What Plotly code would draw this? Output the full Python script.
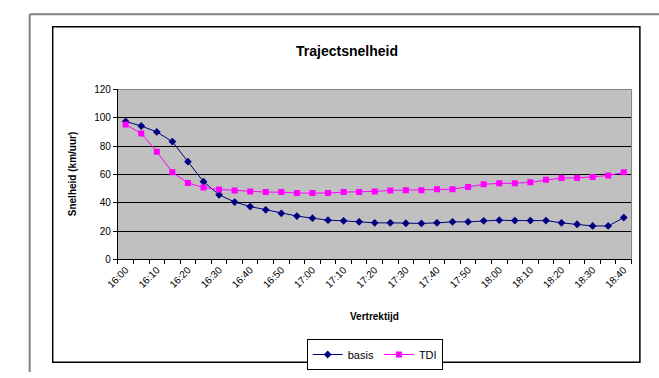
import plotly.graph_objects as go

times = ["16:00","16:05","16:10","16:15","16:20","16:25","16:30","16:35","16:40","16:45",
         "16:50","16:55","17:00","17:05","17:10","17:15","17:20","17:25","17:30","17:35",
         "17:40","17:45","17:50","17:55","18:00","18:05","18:10","18:15","18:20","18:25",
         "18:30","18:35","18:40"]
basis = [97.4, 94.2, 90.0, 83.2, 69.0, 54.9, 45.6, 40.5, 37.3, 35.0,
         32.5, 30.6, 29.1, 27.7, 27.2, 26.5, 25.8, 25.8, 25.5, 25.4,
         25.8, 26.5, 26.5, 27.2, 27.7, 27.4, 27.4, 27.4, 25.8, 24.8,
         23.6, 23.6, 29.5]
tdi = [95.3, 88.9, 76.1, 61.5, 54.0, 50.7, 49.4, 48.7, 48.0, 47.5,
       47.5, 46.8, 46.8, 46.8, 47.5, 47.5, 48.0, 48.7, 48.9, 48.9,
       49.6, 49.6, 51.2, 53.0, 53.7, 53.7, 54.4, 56.2, 57.5, 57.5,
       58.2, 59.2, 61.5]
y_ticks = [0, 20, 40, 60, 80, 100, 120]

W, H = 659, 378
idx = list(range(len(times)))
label_idx = idx[::2]

fig = go.Figure()
fig.add_trace(go.Scatter(x=idx, y=basis, name="basis", mode="lines+markers",
                         line=dict(color="#000080", width=1),
                         marker=dict(symbol="diamond", size=6, color="#000080")))
fig.add_trace(go.Scatter(x=idx, y=tdi, name="TDI", mode="lines+markers",
                         line=dict(color="#FF00FF", width=1),
                         marker=dict(symbol="square", size=6, color="#FF00FF")))

px0, px1 = 107, 631
py0, py1 = 87, 262

fig.update_layout(
    width=W, height=H, margin=dict(l=0, r=0, t=0, b=0),
    paper_bgcolor="white", plot_bgcolor="#C0C0C0",
    font=dict(family="Liberation Sans, Arial", size=10, color="black"),
    showlegend=True,
    legend=dict(orientation="h", x=369 / W, xanchor="center", y=1 - 344 / H, yanchor="top",
                bordercolor="black", borderwidth=1, bgcolor="white",
                font=dict(size=11), itemwidth=30, tracegroupgap=0),
    xaxis=dict(domain=[px0 / W, px1 / W], range=[-0.5, len(times) - 0.5],
               tickmode="array", tickvals=label_idx, ticktext=[times[i] for i in label_idx],
               tickangle=-45, ticks="", showgrid=False, zeroline=False,
               showline=True, linecolor="black", linewidth=1,
               tickfont=dict(size=10),
               minor=dict(tickmode="linear", tick0=-0.5, dtick=1, ticks="outside",
                          ticklen=4, tickcolor="black", showgrid=False)),
    yaxis=dict(domain=[1 - py1 / H, 1 - py0 / H], range=[0, 120],
               tickmode="array", tickvals=y_ticks, ticks="outside", ticklen=4,
               tickcolor="black", showgrid=True, gridcolor="black", gridwidth=1,
               zeroline=False, showline=True, linecolor="black", linewidth=1,
               tickfont=dict(size=10)),
    shapes=[
        dict(type="line", xref="paper", yref="paper", x0=17 / W, x1=1.0, y0=1 - 9.5 / H, y1=1 - 9.5 / H,
             line=dict(color="#808080", width=2)),
        dict(type="line", xref="paper", yref="paper", x0=17 / W, x1=17 / W, y0=0, y1=1 - 9.5 / H,
             line=dict(color="#808080", width=2)),
        dict(type="rect", xref="paper", yref="paper", x0=40.5 / W, x1=639.5 / W,
             y0=1 - 368 / H, y1=1 - 22.5 / H, line=dict(color="black", width=1.5)),
        dict(type="line", xref="paper", yref="paper", x0=px1 / W, x1=px1 / W,
             y0=1 - py1 / H, y1=1 - py0 / H, line=dict(color="#808080", width=1)),
        dict(type="line", xref="paper", yref="paper", x0=px0 / W, x1=px1 / W,
             y0=1 - py0 / H, y1=1 - py0 / H, line=dict(color="#808080", width=1)),
    ],
    annotations=[
        dict(text="<b>Trajectsnelheid</b>", xref="paper", yref="paper", x=341 / W, y=1 - 47 / H,
             xanchor="center", yanchor="middle", showarrow=False, font=dict(size=14)),
        dict(text="<b>Vertrektijd</b>", xref="paper", yref="paper", x=369 / W, y=1 - 321 / H,
             xanchor="center", yanchor="middle", showarrow=False, font=dict(size=10)),
        dict(text="<b>Snelheid (km/uur)</b>", xref="paper", yref="paper", x=61 / W,
             y=1 - 174.5 / H, xanchor="center", yanchor="middle", textangle=-90,
             showarrow=False, font=dict(size=10)),
    ],
)

fig.write_html("out.html", config={"displayModeBar": False},
               post_script="document.body.style.margin='0';document.body.style.overflow='hidden';")
